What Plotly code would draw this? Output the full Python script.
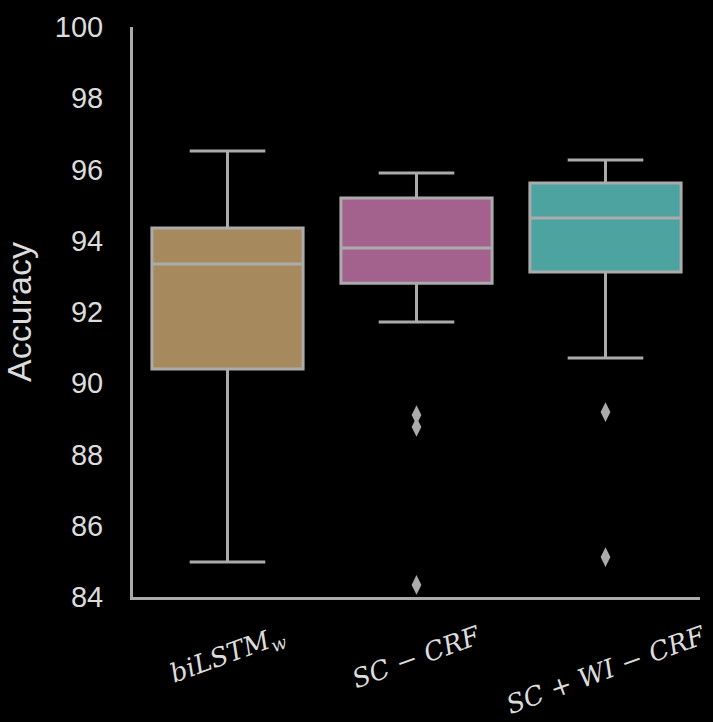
import plotly.graph_objects as go

# ---- data ----
categories = ["biLSTMw", "SC-CRF", "SC+WI-CRF"]
tick_labels = ["<i>biLSTM</i><sub><i>w</i></sub>", "<i>SC</i> − <i>CRF</i>", "<i>SC</i> + <i>WI</i> − <i>CRF</i>"]
q1_vals = [90.40, 92.81, 93.12]
median_vals = [93.35, 93.80, 94.64]
q3_vals = [94.36, 95.20, 95.62]
lower_whisker = [84.98, 91.72, 90.71]
upper_whisker = [96.52, 95.90, 96.27]
outlier_cat = ["SC-CRF", "SC-CRF", "SC-CRF", "SC+WI-CRF", "SC+WI-CRF"]
outlier_vals = [89.11, 88.77, 84.34, 89.19, 85.12]
box_colors = ["#A68A5E", "#A3628E", "#4CA3A0"]
y_ticks = [84, 86, 88, 90, 92, 94, 96, 98, 100]

LINE = "#ABABAB"
TEXT = "#DCDCDC"

fig = go.Figure()
for i, c in enumerate(categories):
    fig.add_trace(go.Box(
        x=[c], q1=[q1_vals[i]], median=[median_vals[i]], q3=[q3_vals[i]],
        lowerfence=[lower_whisker[i]], upperfence=[upper_whisker[i]],
        fillcolor=box_colors[i], line=dict(color=LINE, width=3),
        width=0.8, whiskerwidth=0.5, boxpoints=False, showlegend=False,
        hoverinfo="skip",
    ))

fig.add_trace(go.Scatter(
    x=outlier_cat, y=outlier_vals, mode="markers",
    marker=dict(symbol="diamond-tall", size=14, color=LINE, line=dict(width=0)),
    showlegend=False, cliponaxis=False,
))

for c, lab in zip(categories, tick_labels):
    fig.add_annotation(
        x=c, xref="x", y=0, yref="paper", text=lab, showarrow=False,
        textangle=-20, xanchor="center", yanchor="top", yshift=-20,
        font=dict(family="DejaVu Serif, Liberation Serif, serif", size=26, color=TEXT),
    )

fig.update_layout(
    width=713, height=722,
    margin=dict(l=133, r=13, t=27, b=125),
    paper_bgcolor="black", plot_bgcolor="black",
    boxmode="overlay",
    font=dict(family="Liberation Sans, Arial, sans-serif", color=TEXT),
    xaxis=dict(
        type="category", categoryorder="array", categoryarray=categories,
        range=[-0.5, 2.5], showticklabels=False, showgrid=False, zeroline=False,
        showline=True, linecolor=LINE, linewidth=3, ticks="",
    ),
    yaxis=dict(
        range=[84, 100], tickvals=y_ticks, showgrid=False, zeroline=False,
        showline=True, linecolor=LINE, linewidth=3, ticks="",
        tickfont=dict(size=29, color=TEXT), ticklabelstandoff=21,
        title=dict(text="Accuracy", font=dict(size=34, color=TEXT), standoff=14),
    ),
)

fig.write_html("out.html")
